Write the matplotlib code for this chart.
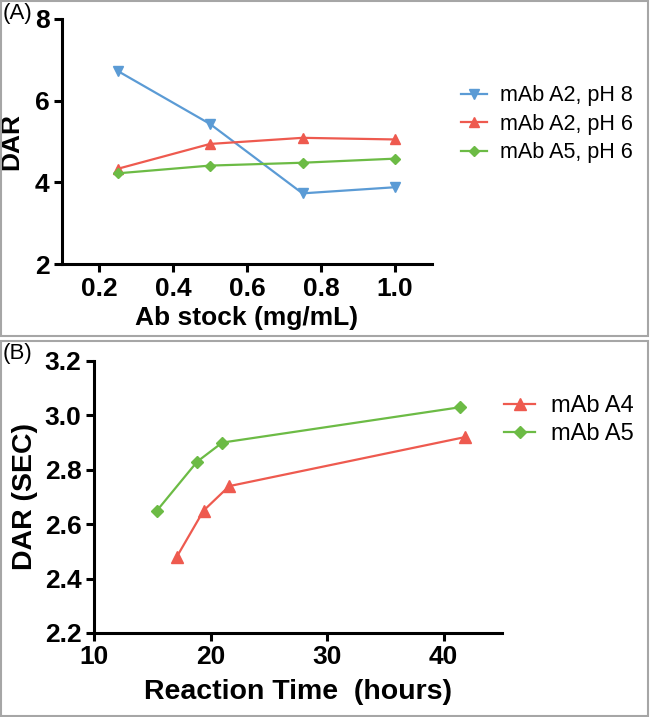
import matplotlib.pyplot as plt
from matplotlib.patches import Rectangle

# --- data panel A ---
ab_stock = [0.25, 0.5, 0.75, 1.0]
dar_a2_ph8 = [6.73, 5.43, 3.73, 3.88]
dar_a2_ph6 = [4.33, 4.94, 5.09, 5.05]
dar_a5_ph6 = [4.22, 4.41, 4.48, 4.58]
labels_a = ['mAb A2, pH 8', 'mAb A2, pH 6', 'mAb A5, pH 6']

# --- data panel B ---
time_a4 = [17.1, 19.4, 21.6, 41.8]
dar_a4 = [2.48, 2.65, 2.74, 2.92]
time_a5 = [15.4, 18.85, 21.0, 41.4]
dar_a5 = [2.65, 2.83, 2.90, 3.03]
labels_b = ['mAb A4', 'mAb A5']

BLUE = '#5b9bd5'
RED = '#ee5a4f'
GREEN = '#6cbb45'

plt.rcParams['font.family'] = ['Liberation Sans', 'DejaVu Sans']
plt.rcParams['xtick.labelsize'] = 19
plt.rcParams['ytick.labelsize'] = 19

W, H = 650, 717
fig = plt.figure(figsize=(W / 100, H / 100), dpi=100)


def px_axes(left, top, right, bottom):
    return fig.add_axes([left / W, 1 - bottom / H, (right - left) / W, (bottom - top) / H])


def style_axes(ax):
    for s in ['top', 'right']:
        ax.spines[s].set_visible(False)
    for s in ['left', 'bottom']:
        ax.spines[s].set_linewidth(2.2)
    ax.tick_params(direction='out', length=6, width=2.2, pad=3)
    for lab in ax.get_xticklabels() + ax.get_yticklabels():
        lab.set_fontweight('bold')
        lab.set_fontsize(19)


# panel frames
fig.patches.append(Rectangle((1 / W, 1 - 336 / H), 647 / W, 335 / H, transform=fig.transFigure,
                             fill=False, edgecolor='#a6a6a6', linewidth=1.5))
fig.patches.append(Rectangle((1 / W, 1 - 716 / H), 647 / W, 375 / H, transform=fig.transFigure,
                             fill=False, edgecolor='#a6a6a6', linewidth=1.5))

# ---------------- Panel A ----------------
ax1 = px_axes(62, 19, 432, 264)
ax1.plot(ab_stock, dar_a2_ph8, color=BLUE, marker='v', ms=7, lw=1.6, label=labels_a[0], clip_on=False)
ax1.plot(ab_stock, dar_a2_ph6, color=RED, marker='^', ms=7, lw=1.6, label=labels_a[1], clip_on=False)
ax1.plot(ab_stock, dar_a5_ph6, color=GREEN, marker='D', ms=5, lw=1.6, label=labels_a[2], clip_on=False)
ax1.set_xlim(0.1, 1.1)
ax1.set_ylim(2, 8)
ax1.set_xticks([0.2, 0.4, 0.6, 0.8, 1.0])
ax1.set_xticklabels(['0.2', '0.4', '0.6', '0.8', '1.0'])
ax1.set_yticks([2, 4, 6, 8])
ax1.set_yticklabels(['2', '4', '6', '8'])
ax1.set_xlabel('Ab stock (mg/mL)', fontsize=19, fontweight='bold', labelpad=4)
ax1.set_ylabel('DAR', fontsize=19, fontweight='bold', labelpad=8)
style_axes(ax1)
ax1.legend(loc='upper left', bbox_to_anchor=(442 / W, 1 - 66 / H), bbox_transform=fig.transFigure,
           frameon=False, fontsize=15.5, handlelength=1.2, handletextpad=0.6, labelspacing=0.35)
fig.text(3 / W, 1 - 3 / H, '(A)', fontsize=16, va='top', ha='left')

# ---------------- Panel B ----------------
ax2 = px_axes(94, 361, 502, 633)
ax2.plot(time_a4, dar_a4, color=RED, marker='^', ms=8, lw=1.6, label=labels_b[0], clip_on=False)
ax2.plot(time_a5, dar_a5, color=GREEN, marker='D', ms=6, lw=1.6, label=labels_b[1], clip_on=False)
ax2.set_xlim(10, 45)
ax2.set_ylim(2.2, 3.2)
ax2.set_xticks([10, 20, 30, 40])
ax2.set_xticklabels(['10', '20', '30', '40'])
ax2.set_yticks([2.2, 2.4, 2.6, 2.8, 3.0, 3.2])
ax2.set_yticklabels(['2.2', '2.4', '2.6', '2.8', '3.0', '3.2'])
ax2.set_xlabel('Reaction Time  (hours)', fontsize=20.5, fontweight='bold', labelpad=7)
ax2.set_ylabel('DAR (SEC)', fontsize=20.5, fontweight='bold', labelpad=5)
style_axes(ax2)
ax2.legend(loc='upper left', bbox_to_anchor=(483 / W, 1 - 374 / H), bbox_transform=fig.transFigure,
           frameon=False, fontsize=17, handlelength=1.3, handletextpad=0.7, labelspacing=0.25)
fig.text(3 / W, 1 - 343 / H, '(B)', fontsize=16, va='top', ha='left')

fig.savefig('out.png', dpi=100, facecolor='white')
